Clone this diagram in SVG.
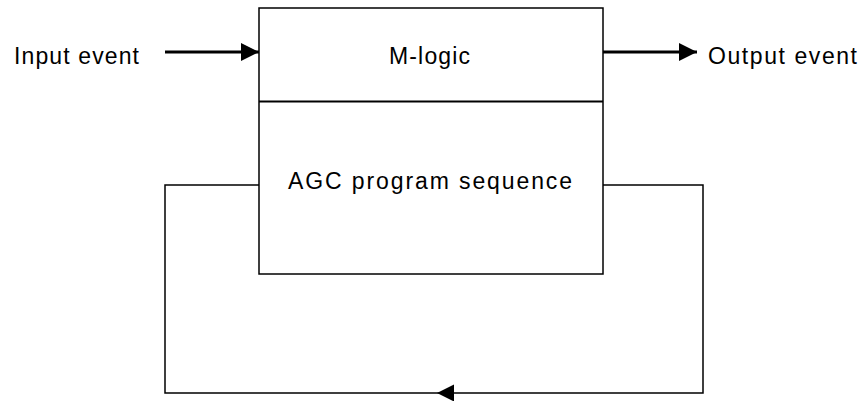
<svg xmlns="http://www.w3.org/2000/svg" width="862" height="401" viewBox="0 0 862 401">
<style>
.t{font-family:"Liberation Sans",Arial,sans-serif;font-size:23px;fill:#000}
.box{fill:#fff;stroke:#000;stroke-width:1.5}
.ln{fill:none;stroke:#000;stroke-width:1.5}
.thick{fill:none;stroke:#000;stroke-width:3}
</style>
<defs>
<marker id="ah" markerWidth="6" markerHeight="6" refX="6" refY="3" orient="auto" markerUnits="strokeWidth"><path d="M0,0 L6,3 L0,6 Z" fill="#000"/></marker>
</defs>
<g id="connectors">
<path class="ln" d="M259,185 H165 V393 H703 V185 H603"/>
<path d="M454,384.5 L437,393 L454,401.5 Z" fill="#000"/>
<line class="thick" x1="165" y1="52" x2="259" y2="52" marker-end="url(#ah)"/>
<line class="thick" x1="603" y1="52" x2="697" y2="52" marker-end="url(#ah)"/>
</g>
<g id="box">
<rect class="box" x="259" y="8" width="344" height="266"/>
<line x1="259" y1="101.5" x2="603" y2="101.5" stroke="#000" stroke-width="2"/>
</g>
<g id="mlogic"><text class="t" x="389" y="64" textLength="81" lengthAdjust="spacing">M-logic</text></g>
<g id="agc"><text class="t" x="288" y="189" textLength="284" lengthAdjust="spacing">AGC program sequence</text></g>
<g id="input"><text class="t" x="14" y="64" textLength="125" lengthAdjust="spacing">Input event</text></g>
<g id="output"><text class="t" x="708" y="64" textLength="149" lengthAdjust="spacing">Output event</text></g>
</svg>
